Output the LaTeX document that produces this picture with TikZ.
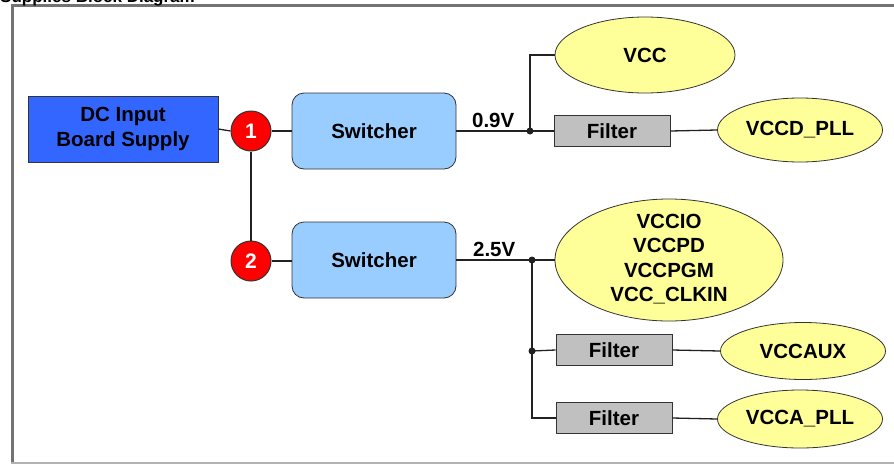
\documentclass[tikz,border=0pt]{standalone}
\usepackage{fontspec}
\setmainfont{Liberation Sans}
\usetikzlibrary{shapes.geometric}
\definecolor{linec}{HTML}{222222}
\definecolor{edgec}{HTML}{333333}
\definecolor{dcblue}{HTML}{3366FF}
\definecolor{swblue}{HTML}{99CCFF}
\definecolor{filtgray}{HTML}{C0C0C0}
\definecolor{ellyel}{HTML}{FFFF99}
\definecolor{redc}{HTML}{FF0000}
\begin{document}
\begin{tikzpicture}[x=1pt,y=-1pt,
  lbl/.style={font=\fontsize{20.5}{24.5}\selectfont\bfseries, text=black},
  dcbox/.style={draw=edgec, line width=0.8pt, fill=dcblue, minimum width=190, minimum height=66, align=center, inner sep=0, lbl},
  numc/.style={circle, draw=edgec, line width=1pt, fill=redc, minimum size=40, inner sep=0, font=\fontsize{21}{24}\selectfont\bfseries, text=white},
  swbox/.style={draw=edgec, line width=0.8pt, fill=swblue, rounded corners=12, minimum width=164, minimum height=76, inner sep=0, lbl},
  filt/.style={draw=edgec, line width=0.8pt, fill=filtgray, minimum width=116, minimum height=31, inner sep=0, lbl},
  rail/.style={ellipse, draw=edgec, line width=0.8pt, fill=ellyel, inner sep=0, lbl},
  conn/.style={draw=linec, line width=1.3pt},
  dot/.style={circle, fill=linec, minimum size=7, inner sep=0}
]
\useasboundingbox (0,0) rectangle (894,464);
% frame
\draw[draw=black!55, line width=3pt] (12,5) -- (900,5);
\draw[draw=black!55, line width=3pt] (12,4) -- (12,464);
\draw[draw=black!30, line width=2pt] (11,462.5) -- (900,462.5);
\node[anchor=base east, font=\fontsize{17}{20}\selectfont\bfseries, inner sep=0] (title) at (195,2) {Supplies Block Diagram};

% nodes
\node[dcbox] (dc) at (123,129) {DC Input\\Board Supply};
\node[numc] (c1) at (251,131) {1};
\node[numc] (c2) at (251,261) {2};
\node[swbox] (sw1) at (374,131) {Switcher};
\node[swbox] (sw2) at (374,260) {Switcher};
\node[dot] (j1) at (530,131) {};
\node[dot] (j2) at (532,260) {};
\node[dot] (j3) at (532,351) {};
\node[rail, minimum width=180, minimum height=76] (vcc) at (645,55) {VCC};
\node[filt] (f1) at (612,131) {Filter};
\node[rail, minimum width=165, minimum height=64] (vccd) at (800,130) {VCCD\_PLL};
\node[rail, minimum width=228, minimum height=122] (big) at (669,260) {};
\node[lbl, align=center, inner sep=0] (bigtxt) at (669,259) {VCCIO\\VCCPD\\VCCPGM\\VCC\_CLKIN};
\node[filt] (f2) at (614,350) {Filter};
\node[rail, minimum width=165, minimum height=57] (aux) at (803,351) {VCCAUX};
\node[filt] (f3) at (614,418) {Filter};
\node[rail, minimum width=165, minimum height=58] (apll) at (800,419) {VCCA\_PLL};

% connectors
\draw[conn] (dc.east) -- (c1.west);
\draw[conn] (c1.south) -- (c2.north);
\draw[conn] (c1.east) -- (sw1.west);
\draw[conn] (c2.east) -- (sw2.west |- c2.east);
\draw[conn] (sw1.east) -- node[lbl, above, pos=0.5, inner sep=3pt] (v09) {0.9V} (j1.center);
\draw[conn] (j1.center) |- (vcc.west);
\draw[conn] (j1.center) -- (f1.west);
\draw[conn] (f1.east) -- (vccd.west);
\draw[conn] (sw2.east) -- node[lbl, above, pos=0.5, inner sep=3pt] (v25) {2.5V} (j2.center);
\draw[conn] (j2.center) -- (big.west);
\draw[conn] (j2.center) -- (j3.center);
\draw[conn] (j3.center) -- (f2.west);
\draw[conn] (j3.center) |- (f3.west);
\draw[conn] (f2.east) -- (aux.west);
\draw[conn] (f3.east) -- (apll.west);
\end{tikzpicture}
\end{document}
